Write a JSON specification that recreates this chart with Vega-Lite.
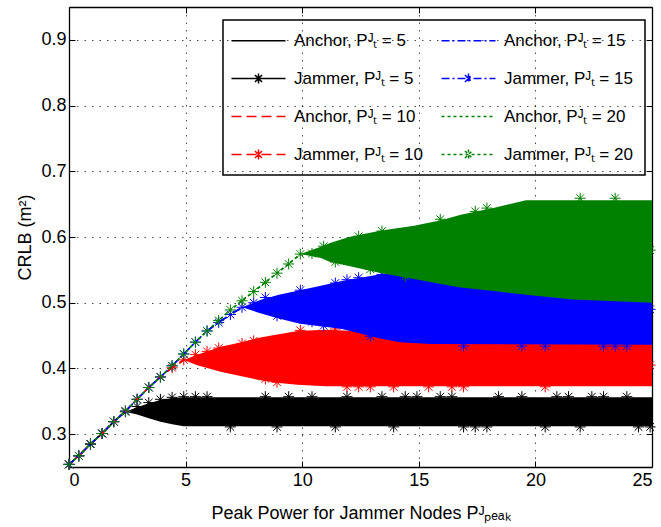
{
"$schema": "https://vega.github.io/schema/vega-lite/v6.json",
"width": 583, "height": 460,
"autosize": {"type": "none"},
"padding": {"left": 69, "top": 7, "right": 9, "bottom": 60},
"background": "white",
"config": {
  "view": {"stroke": null},
  "font": "Liberation Sans",
  "axis": {"labelFont": "Liberation Sans", "labelFontSize": 18, "labelColor": "#000", "titleFont": "Liberation Sans", "titleFontSize": 18, "titleColor": "#000", "titleFontWeight": "normal", "domainColor": "#000", "domainWidth": 1.3, "tickColor": "#000", "tickWidth": 1, "gridColor": "#000", "gridDash": [1.5, 6], "gridOpacity": 0.7, "gridWidth": 1}
},
"datasets": {
  "band": [
    {"p":5,"x":2.42,"lo":0.334,"hi":0.334},{"p":5,"x":2.92,"lo":0.330,"hi":0.341},{"p":5,"x":3.42,"lo":0.324,"hi":0.347},{"p":5,"x":3.92,"lo":0.319,"hi":0.352},{"p":5,"x":4.42,"lo":0.315,"hi":0.355},{"p":5,"x":4.92,"lo":0.312,"hi":0.356},{"p":5,"x":25,"lo":0.312,"hi":0.356},
    {"p":10,"x":4.92,"lo":0.413,"hi":0.413},{"p":10,"x":5.5,"lo":0.405,"hi":0.421},{"p":10,"x":6.5,"lo":0.395,"hi":0.433},{"p":10,"x":7.4,"lo":0.388,"hi":0.440},{"p":10,"x":8.2,"lo":0.382,"hi":0.447},{"p":10,"x":9,"lo":0.378,"hi":0.452},{"p":10,"x":9.8,"lo":0.375,"hi":0.457},{"p":10,"x":11,"lo":0.373,"hi":0.459},{"p":10,"x":12.3,"lo":0.373,"hi":0.457},{"p":10,"x":13.3,"lo":0.373,"hi":0.450},{"p":10,"x":15,"lo":0.373,"hi":0.440},{"p":10,"x":25,"lo":0.373,"hi":0.440},
    {"p":15,"x":7.42,"lo":0.493,"hi":0.493},{"p":15,"x":8.2,"lo":0.484,"hi":0.504},{"p":15,"x":9,"lo":0.476,"hi":0.512},{"p":15,"x":9.9,"lo":0.468,"hi":0.519},{"p":15,"x":10.8,"lo":0.464,"hi":0.526},{"p":15,"x":11.7,"lo":0.460,"hi":0.533},{"p":15,"x":12.5,"lo":0.453,"hi":0.538},{"p":15,"x":13.3,"lo":0.446,"hi":0.543},{"p":15,"x":14.2,"lo":0.440,"hi":0.546},{"p":15,"x":15.5,"lo":0.437,"hi":0.546},{"p":15,"x":25,"lo":0.436,"hi":0.546},
    {"p":20,"x":9.92,"lo":0.574,"hi":0.574},{"p":20,"x":10.8,"lo":0.568,"hi":0.585},{"p":20,"x":11.2,"lo":0.562,"hi":0.591},{"p":20,"x":12,"lo":0.556,"hi":0.600},{"p":20,"x":13.4,"lo":0.545,"hi":0.610},{"p":20,"x":14.8,"lo":0.536,"hi":0.617},{"p":20,"x":16,"lo":0.528,"hi":0.626},{"p":20,"x":16.8,"lo":0.523,"hi":0.634},{"p":20,"x":18.2,"lo":0.518,"hi":0.644},{"p":20,"x":19.6,"lo":0.512,"hi":0.656},{"p":20,"x":21.6,"lo":0.505,"hi":0.656},{"p":20,"x":25,"lo":0.500,"hi":0.656}
  ],
  "mk": [
    {"p":5,"x":0,"y":0.254},{"p":5,"x":0.42,"y":0.267},{"p":5,"x":0.92,"y":0.285},{"p":5,"x":1.42,"y":0.301},{"p":5,"x":1.92,"y":0.319},{"p":5,"x":2.42,"y":0.334},{"p":5,"x":2.92,"y":0.342},{"p":5,"x":3.42,"y":0.348},{"p":5,"x":3.92,"y":0.353},{"p":5,"x":4.42,"y":0.356},{"p":5,"x":4.92,"y":0.357},{"p":5,"x":5.42,"y":0.357},{"p":5,"x":5.92,"y":0.357},{"p":5,"x":6.42,"y":0.334},{"p":5,"x":6.92,"y":0.311},{"p":5,"x":7.42,"y":0.334},{"p":5,"x":7.92,"y":0.334},{"p":5,"x":8.42,"y":0.357},{"p":5,"x":8.92,"y":0.311},{"p":5,"x":9.42,"y":0.357},{"p":5,"x":9.92,"y":0.334},{"p":5,"x":10.42,"y":0.357},{"p":5,"x":10.92,"y":0.334},{"p":5,"x":11.42,"y":0.311},{"p":5,"x":11.92,"y":0.357},{"p":5,"x":12.42,"y":0.334},{"p":5,"x":12.92,"y":0.334},{"p":5,"x":13.42,"y":0.357},{"p":5,"x":13.92,"y":0.311},{"p":5,"x":14.42,"y":0.357},{"p":5,"x":14.92,"y":0.357},{"p":5,"x":15.42,"y":0.334},{"p":5,"x":15.92,"y":0.357},{"p":5,"x":16.42,"y":0.357},{"p":5,"x":16.92,"y":0.311},{"p":5,"x":17.42,"y":0.311},{"p":5,"x":17.92,"y":0.311},{"p":5,"x":18.42,"y":0.357},{"p":5,"x":18.92,"y":0.334},{"p":5,"x":19.42,"y":0.357},{"p":5,"x":19.92,"y":0.334},{"p":5,"x":20.42,"y":0.311},{"p":5,"x":20.92,"y":0.357},{"p":5,"x":21.42,"y":0.357},{"p":5,"x":21.92,"y":0.311},{"p":5,"x":22.42,"y":0.357},{"p":5,"x":22.92,"y":0.357},{"p":5,"x":23.42,"y":0.334},{"p":5,"x":23.92,"y":0.357},{"p":5,"x":24.42,"y":0.311},{"p":5,"x":24.92,"y":0.311},
    {"p":10,"x":0,"y":0.254},{"p":10,"x":0.42,"y":0.267},{"p":10,"x":0.92,"y":0.285},{"p":10,"x":1.42,"y":0.301},{"p":10,"x":1.92,"y":0.319},{"p":10,"x":2.42,"y":0.335},{"p":10,"x":2.92,"y":0.353},{"p":10,"x":3.42,"y":0.371},{"p":10,"x":3.92,"y":0.387},{"p":10,"x":4.42,"y":0.401},{"p":10,"x":4.92,"y":0.413},{"p":10,"x":5.42,"y":0.421},{"p":10,"x":5.92,"y":0.426},{"p":10,"x":6.42,"y":0.431},{"p":10,"x":6.92,"y":0.41},{"p":10,"x":7.42,"y":0.438},{"p":10,"x":7.92,"y":0.442},{"p":10,"x":8.42,"y":0.384},{"p":10,"x":8.92,"y":0.379},{"p":10,"x":9.42,"y":0.415},{"p":10,"x":9.92,"y":0.458},{"p":10,"x":10.42,"y":0.415},{"p":10,"x":10.92,"y":0.41},{"p":10,"x":11.42,"y":0.46},{"p":10,"x":11.92,"y":0.372},{"p":10,"x":12.42,"y":0.372},{"p":10,"x":12.92,"y":0.372},{"p":10,"x":13.42,"y":0.405},{"p":10,"x":13.92,"y":0.372},{"p":10,"x":14.42,"y":0.405},{"p":10,"x":14.92,"y":0.405},{"p":10,"x":15.42,"y":0.372},{"p":10,"x":15.92,"y":0.405},{"p":10,"x":16.42,"y":0.372},{"p":10,"x":16.92,"y":0.372},{"p":10,"x":17.42,"y":0.405},{"p":10,"x":17.92,"y":0.405},{"p":10,"x":18.42,"y":0.405},{"p":10,"x":18.92,"y":0.405},{"p":10,"x":19.42,"y":0.405},{"p":10,"x":19.92,"y":0.405},{"p":10,"x":20.42,"y":0.372},{"p":10,"x":20.92,"y":0.405},{"p":10,"x":21.42,"y":0.405},{"p":10,"x":21.92,"y":0.405},{"p":10,"x":22.42,"y":0.405},{"p":10,"x":22.92,"y":0.405},{"p":10,"x":23.42,"y":0.405},{"p":10,"x":23.92,"y":0.405},{"p":10,"x":24.42,"y":0.405},{"p":10,"x":24.92,"y":0.405},
    {"p":15,"x":0,"y":0.254},{"p":15,"x":0.42,"y":0.267},{"p":15,"x":0.92,"y":0.285},{"p":15,"x":1.42,"y":0.301},{"p":15,"x":1.92,"y":0.319},{"p":15,"x":2.42,"y":0.335},{"p":15,"x":2.92,"y":0.353},{"p":15,"x":3.42,"y":0.371},{"p":15,"x":3.92,"y":0.387},{"p":15,"x":4.42,"y":0.404},{"p":15,"x":4.92,"y":0.422},{"p":15,"x":5.42,"y":0.44},{"p":15,"x":5.92,"y":0.457},{"p":15,"x":6.42,"y":0.47},{"p":15,"x":6.92,"y":0.482},{"p":15,"x":7.42,"y":0.493},{"p":15,"x":7.92,"y":0.5},{"p":15,"x":8.42,"y":0.508},{"p":15,"x":8.92,"y":0.48},{"p":15,"x":9.42,"y":0.494},{"p":15,"x":9.92,"y":0.519},{"p":15,"x":10.42,"y":0.471},{"p":15,"x":10.92,"y":0.465},{"p":15,"x":11.42,"y":0.53},{"p":15,"x":11.92,"y":0.535},{"p":15,"x":12.42,"y":0.538},{"p":15,"x":12.92,"y":0.449},{"p":15,"x":13.42,"y":0.543},{"p":15,"x":13.92,"y":0.49},{"p":15,"x":14.42,"y":0.49},{"p":15,"x":14.92,"y":0.49},{"p":15,"x":15.42,"y":0.49},{"p":15,"x":15.92,"y":0.49},{"p":15,"x":16.42,"y":0.49},{"p":15,"x":16.92,"y":0.434},{"p":15,"x":17.42,"y":0.49},{"p":15,"x":17.92,"y":0.49},{"p":15,"x":18.42,"y":0.49},{"p":15,"x":18.92,"y":0.49},{"p":15,"x":19.42,"y":0.434},{"p":15,"x":19.92,"y":0.49},{"p":15,"x":20.42,"y":0.434},{"p":15,"x":20.92,"y":0.49},{"p":15,"x":21.42,"y":0.49},{"p":15,"x":21.92,"y":0.49},{"p":15,"x":22.42,"y":0.49},{"p":15,"x":22.92,"y":0.434},{"p":15,"x":23.42,"y":0.434},{"p":15,"x":23.92,"y":0.434},{"p":15,"x":24.42,"y":0.49},{"p":15,"x":24.92,"y":0.49},
    {"p":20,"x":0,"y":0.254},{"p":20,"x":0.42,"y":0.267},{"p":20,"x":0.92,"y":0.285},{"p":20,"x":1.42,"y":0.301},{"p":20,"x":1.92,"y":0.319},{"p":20,"x":2.42,"y":0.335},{"p":20,"x":2.92,"y":0.353},{"p":20,"x":3.42,"y":0.371},{"p":20,"x":3.92,"y":0.387},{"p":20,"x":4.42,"y":0.404},{"p":20,"x":4.92,"y":0.422},{"p":20,"x":5.42,"y":0.44},{"p":20,"x":5.92,"y":0.457},{"p":20,"x":6.42,"y":0.473},{"p":20,"x":6.92,"y":0.489},{"p":20,"x":7.42,"y":0.503},{"p":20,"x":7.92,"y":0.517},{"p":20,"x":8.42,"y":0.531},{"p":20,"x":8.92,"y":0.545},{"p":20,"x":9.42,"y":0.559},{"p":20,"x":9.92,"y":0.574},{"p":20,"x":10.42,"y":0.575},{"p":20,"x":10.92,"y":0.586},{"p":20,"x":11.42,"y":0.562},{"p":20,"x":11.92,"y":0.58},{"p":20,"x":12.42,"y":0.601},{"p":20,"x":12.92,"y":0.551},{"p":20,"x":13.42,"y":0.609},{"p":20,"x":13.92,"y":0.58},{"p":20,"x":14.42,"y":0.54},{"p":20,"x":14.92,"y":0.58},{"p":20,"x":15.42,"y":0.58},{"p":20,"x":15.92,"y":0.627},{"p":20,"x":16.42,"y":0.58},{"p":20,"x":16.92,"y":0.58},{"p":20,"x":17.42,"y":0.639},{"p":20,"x":17.92,"y":0.644},{"p":20,"x":18.42,"y":0.58},{"p":20,"x":18.92,"y":0.58},{"p":20,"x":19.42,"y":0.58},{"p":20,"x":19.92,"y":0.58},{"p":20,"x":20.42,"y":0.58},{"p":20,"x":20.92,"y":0.58},{"p":20,"x":21.42,"y":0.58},{"p":20,"x":21.92,"y":0.659},{"p":20,"x":22.42,"y":0.58},{"p":20,"x":22.92,"y":0.58},{"p":20,"x":23.42,"y":0.659},{"p":20,"x":23.92,"y":0.58},{"p":20,"x":24.42,"y":0.58},{"p":20,"x":24.92,"y":0.58}
  ],
  "rise": [
    {"s":"A5","x":0,"y":0.254},{"s":"A5","x":0.42,"y":0.267},{"s":"A5","x":0.92,"y":0.285},{"s":"A5","x":1.42,"y":0.301},{"s":"A5","x":1.92,"y":0.319},{"s":"A5","x":2.42,"y":0.334},
    {"s":"J5","x":0,"y":0.254},{"s":"J5","x":0.42,"y":0.267},{"s":"J5","x":0.92,"y":0.285},{"s":"J5","x":1.42,"y":0.301},{"s":"J5","x":1.92,"y":0.319},{"s":"J5","x":2.42,"y":0.334},
    {"s":"A10","x":0,"y":0.254},{"s":"A10","x":0.42,"y":0.267},{"s":"A10","x":0.92,"y":0.285},{"s":"A10","x":1.42,"y":0.301},{"s":"A10","x":1.92,"y":0.319},{"s":"A10","x":2.42,"y":0.335},{"s":"A10","x":2.92,"y":0.353},{"s":"A10","x":3.42,"y":0.371},{"s":"A10","x":3.92,"y":0.387},{"s":"A10","x":4.42,"y":0.401},{"s":"A10","x":4.92,"y":0.413},
    {"s":"J10","x":0,"y":0.254},{"s":"J10","x":0.42,"y":0.267},{"s":"J10","x":0.92,"y":0.285},{"s":"J10","x":1.42,"y":0.301},{"s":"J10","x":1.92,"y":0.319},{"s":"J10","x":2.42,"y":0.335},{"s":"J10","x":2.92,"y":0.353},{"s":"J10","x":3.42,"y":0.371},{"s":"J10","x":3.92,"y":0.387},{"s":"J10","x":4.42,"y":0.401},{"s":"J10","x":4.92,"y":0.413},
    {"s":"A15","x":0,"y":0.254},{"s":"A15","x":0.42,"y":0.267},{"s":"A15","x":0.92,"y":0.285},{"s":"A15","x":1.42,"y":0.301},{"s":"A15","x":1.92,"y":0.319},{"s":"A15","x":2.42,"y":0.335},{"s":"A15","x":2.92,"y":0.353},{"s":"A15","x":3.42,"y":0.371},{"s":"A15","x":3.92,"y":0.387},{"s":"A15","x":4.42,"y":0.404},{"s":"A15","x":4.92,"y":0.422},{"s":"A15","x":5.42,"y":0.44},{"s":"A15","x":5.92,"y":0.457},{"s":"A15","x":6.42,"y":0.47},{"s":"A15","x":6.92,"y":0.482},{"s":"A15","x":7.42,"y":0.493},
    {"s":"J15","x":0,"y":0.254},{"s":"J15","x":0.42,"y":0.267},{"s":"J15","x":0.92,"y":0.285},{"s":"J15","x":1.42,"y":0.301},{"s":"J15","x":1.92,"y":0.319},{"s":"J15","x":2.42,"y":0.335},{"s":"J15","x":2.92,"y":0.353},{"s":"J15","x":3.42,"y":0.371},{"s":"J15","x":3.92,"y":0.387},{"s":"J15","x":4.42,"y":0.404},{"s":"J15","x":4.92,"y":0.422},{"s":"J15","x":5.42,"y":0.44},{"s":"J15","x":5.92,"y":0.457},{"s":"J15","x":6.42,"y":0.47},{"s":"J15","x":6.92,"y":0.482},{"s":"J15","x":7.42,"y":0.493},
    {"s":"A20","x":0,"y":0.254},{"s":"A20","x":0.42,"y":0.267},{"s":"A20","x":0.92,"y":0.285},{"s":"A20","x":1.42,"y":0.301},{"s":"A20","x":1.92,"y":0.319},{"s":"A20","x":2.42,"y":0.335},{"s":"A20","x":2.92,"y":0.353},{"s":"A20","x":3.42,"y":0.371},{"s":"A20","x":3.92,"y":0.387},{"s":"A20","x":4.42,"y":0.404},{"s":"A20","x":4.92,"y":0.422},{"s":"A20","x":5.42,"y":0.44},{"s":"A20","x":5.92,"y":0.457},{"s":"A20","x":6.42,"y":0.473},{"s":"A20","x":6.92,"y":0.489},{"s":"A20","x":7.42,"y":0.503},{"s":"A20","x":7.92,"y":0.517},{"s":"A20","x":8.42,"y":0.531},{"s":"A20","x":8.92,"y":0.545},{"s":"A20","x":9.42,"y":0.559},{"s":"A20","x":9.92,"y":0.574},
    {"s":"J20","x":0,"y":0.254},{"s":"J20","x":0.42,"y":0.267},{"s":"J20","x":0.92,"y":0.285},{"s":"J20","x":1.42,"y":0.301},{"s":"J20","x":1.92,"y":0.319},{"s":"J20","x":2.42,"y":0.335},{"s":"J20","x":2.92,"y":0.353},{"s":"J20","x":3.42,"y":0.371},{"s":"J20","x":3.92,"y":0.387},{"s":"J20","x":4.42,"y":0.404},{"s":"J20","x":4.92,"y":0.422},{"s":"J20","x":5.42,"y":0.44},{"s":"J20","x":5.92,"y":0.457},{"s":"J20","x":6.42,"y":0.473},{"s":"J20","x":6.92,"y":0.489},{"s":"J20","x":7.42,"y":0.503},{"s":"J20","x":7.92,"y":0.517},{"s":"J20","x":8.42,"y":0.531},{"s":"J20","x":8.92,"y":0.545},{"s":"J20","x":9.42,"y":0.559},{"s":"J20","x":9.92,"y":0.574}
  ]
},
"layer": [
  {"data": {"name": "band"}, "transform": [{"filter": "datum.p==5"}],
   "mark": {"type": "area", "color": "#000"},
   "encoding": {
     "x": {"field": "x", "type": "quantitative", "scale": {"domain": [0, 25], "nice": false, "zero": false},
           "axis": {"orient": "bottom", "values": [0, 5, 10, 15, 20, 25], "grid": true, "tickSize": -6, "labelPadding": 10, "title": "Peak Power for Jammer Nodes Pᴶₚₑₐₖ", "titleY": 51, "titleBaseline": "alphabetic"}},
     "y": {"field": "lo", "type": "quantitative", "scale": {"domain": [0.25, 0.95], "nice": false, "zero": false},
           "axis": {"orient": "left", "values": [0.3, 0.4, 0.5, 0.6, 0.7, 0.8, 0.9], "format": ".1f", "grid": true, "tickSize": -6, "labelPadding": 9, "title": "CRLB (m²)", "titleX": -39, "titleY": 230, "titleBaseline": "alphabetic"}},
     "y2": {"field": "hi"}}},
  {"data": {"name": "mk"}, "transform": [{"filter": "datum.p==5"}],
   "mark": {"type": "point", "shape": "M0,-1V1M-1,0H1M-0.7,-0.7L0.7,0.7M-0.7,0.7L0.7,-0.7", "filled": false, "stroke": "#000", "strokeWidth": 1, "size": 121, "opacity": 1},
   "encoding": {
     "x": {"field": "x", "type": "quantitative", "scale": {"domain": [0, 25], "nice": false, "zero": false},
           "axis": {"orient": "top", "values": [0, 5, 10, 15, 20, 25], "labels": false, "grid": false, "tickSize": -6, "title": null}},
     "y": {"field": "y", "type": "quantitative", "scale": {"domain": [0.25, 0.95], "nice": false, "zero": false},
           "axis": {"orient": "right", "values": [0.3, 0.4, 0.5, 0.6, 0.7, 0.8, 0.9], "labels": false, "grid": false, "tickSize": -6, "title": null}}}},
  {"data": {"name": "band"}, "transform": [{"filter": "datum.p==10"}],
   "mark": {"type": "area", "color": "#f00"},
   "encoding": {
     "x": {"field": "x", "type": "quantitative", "scale": {"domain": [0, 25], "nice": false, "zero": false}, "axis": null},
     "y": {"field": "lo", "type": "quantitative", "scale": {"domain": [0.25, 0.95], "nice": false, "zero": false}, "axis": null},
     "y2": {"field": "hi"}}},
  {"data": {"name": "mk"}, "transform": [{"filter": "datum.p==10"}],
   "mark": {"type": "point", "shape": "M0,-1V1M-1,0H1M-0.7,-0.7L0.7,0.7M-0.7,0.7L0.7,-0.7", "filled": false, "stroke": "#f00", "strokeWidth": 1, "size": 121, "opacity": 1},
   "encoding": {
     "x": {"field": "x", "type": "quantitative", "scale": {"domain": [0, 25], "nice": false, "zero": false}, "axis": null},
     "y": {"field": "y", "type": "quantitative", "scale": {"domain": [0.25, 0.95], "nice": false, "zero": false}, "axis": null}}},
  {"data": {"name": "band"}, "transform": [{"filter": "datum.p==15"}],
   "mark": {"type": "area", "color": "#00f"},
   "encoding": {
     "x": {"field": "x", "type": "quantitative", "scale": {"domain": [0, 25], "nice": false, "zero": false}, "axis": null},
     "y": {"field": "lo", "type": "quantitative", "scale": {"domain": [0.25, 0.95], "nice": false, "zero": false}, "axis": null},
     "y2": {"field": "hi"}}},
  {"data": {"name": "mk"}, "transform": [{"filter": "datum.p==15"}],
   "mark": {"type": "point", "shape": "M0,-1V1M-1,0H1M-0.7,-0.7L0.7,0.7M-0.7,0.7L0.7,-0.7", "filled": false, "stroke": "#00f", "strokeWidth": 1, "size": 121, "opacity": 1},
   "encoding": {
     "x": {"field": "x", "type": "quantitative", "scale": {"domain": [0, 25], "nice": false, "zero": false}, "axis": null},
     "y": {"field": "y", "type": "quantitative", "scale": {"domain": [0.25, 0.95], "nice": false, "zero": false}, "axis": null}}},
  {"data": {"name": "band"}, "transform": [{"filter": "datum.p==20"}],
   "mark": {"type": "area", "color": "#008000"},
   "encoding": {
     "x": {"field": "x", "type": "quantitative", "scale": {"domain": [0, 25], "nice": false, "zero": false}, "axis": null},
     "y": {"field": "lo", "type": "quantitative", "scale": {"domain": [0.25, 0.95], "nice": false, "zero": false}, "axis": null},
     "y2": {"field": "hi"}}},
  {"data": {"name": "mk"}, "transform": [{"filter": "datum.p==20"}],
   "mark": {"type": "point", "shape": "M0,-1V1M-1,0H1M-0.7,-0.7L0.7,0.7M-0.7,0.7L0.7,-0.7", "filled": false, "stroke": "#008000", "strokeWidth": 1, "size": 121, "opacity": 1},
   "encoding": {
     "x": {"field": "x", "type": "quantitative", "scale": {"domain": [0, 25], "nice": false, "zero": false}, "axis": null},
     "y": {"field": "y", "type": "quantitative", "scale": {"domain": [0.25, 0.95], "nice": false, "zero": false}, "axis": null}}},
  {"data": {"name": "rise"},
   "mark": {"type": "line", "strokeWidth": 1.5},
   "encoding": {
     "x": {"field": "x", "type": "quantitative", "scale": {"domain": [0, 25], "nice": false, "zero": false}, "axis": null},
     "y": {"field": "y", "type": "quantitative", "scale": {"domain": [0.25, 0.95], "nice": false, "zero": false}, "axis": null},
     "color": {"field": "s", "type": "nominal",
       "scale": {"domain": ["A5", "J5", "A10", "J10", "A15", "J15", "A20", "J20"], "range": ["#000000", "#000000", "#ff0000", "#ff0000", "#0000ff", "#0000ff", "#008000", "#008000"]},
       "legend": {"orient": "none", "legendX": 154, "legendY": 13, "columns": 2, "title": null,
         "labelFont": "Liberation Sans", "labelFontSize": 17, "labelColor": "#000",
         "symbolSize": 196, "symbolOffset": 15, "symbolStrokeWidth": 1.5, "labelOffset": 27, "rowPadding": 20, "columnPadding": 15,
         "padding": 12, "strokeColor": "#000",
         "labelExpr": "(datum.label[0]=='A' ? 'Anchor' : 'Jammer') + ', Pᴶₜ = ' + substring(datum.label, 1)",
         "encode": {
           "symbols": {"update": {"shape": {"signal": "datum.value[0]=='J' ? 'M-3.857,0H3.857M0,-0.714V0.714M-0.505,-0.505L0.505,0.505M-0.505,0.505L0.505,-0.505' : 'M-3.857,0H3.857'"}, "fill": {"value": "transparent"}}},
           "legend": {"update": {"strokeWidth": {"value": 1.5}}}}}},
     "strokeDash": {"field": "s", "type": "nominal",
       "scale": {"domain": ["A5", "J5", "A10", "J10", "A15", "J15", "A20", "J20"], "range": [[1, 0], [1, 0], [10, 5], [10, 5], [8, 3, 2, 3], [8, 3, 2, 3], [3, 3], [3, 3]]}}}}
],
"resolve": {"axis": {"x": "independent", "y": "independent"}}
}
